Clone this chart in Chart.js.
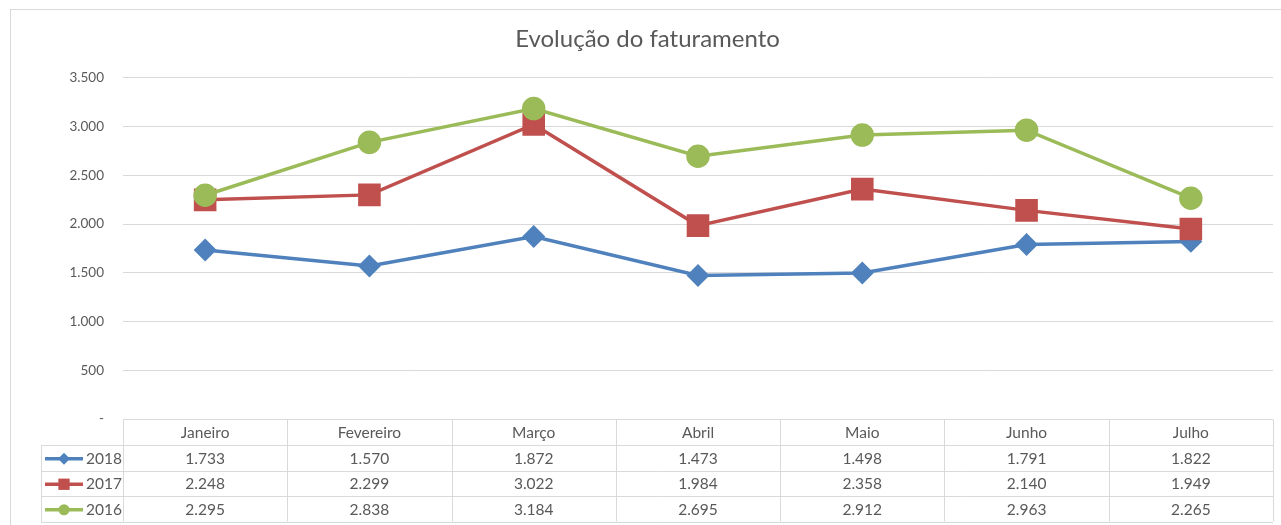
<!DOCTYPE html>
<html>
<head>
<meta charset="utf-8">
<script src="https://cdn.jsdelivr.net/npm/chart.js@4.4.1/dist/chart.umd.min.js"></script>
<style>
  html, body { margin: 0; padding: 0; background: #fff; overflow: hidden; }
  #wrap { width: 1281px; height: 525px; }
  canvas { display: block; }
</style>
</head>
<body>
<div id="wrap"><canvas id="chart" width="1281" height="525"></canvas></div>
<script>
// data
const months = ['Janeiro', 'Fevereiro', 'Março', 'Abril', 'Maio', 'Junho', 'Julho'];
const years = ['2018', '2017', '2016'];
const values2018 = [1733, 1570, 1872, 1473, 1498, 1791, 1822];
const values2017 = [2248, 2299, 3022, 1984, 2358, 2140, 1949];
const values2016 = [2295, 2838, 3184, 2695, 2912, 2963, 2265];
const yTicks = [0, 500, 1000, 1500, 2000, 2500, 3000, 3500];

const FONT = 'Lato, "Open Sans", sans-serif';
const TEXT = '#595959';
const GRID = '#d9d9d9';

// 1733 -> "1.733", 0 -> "-"
function fmt(v) {
    if (v === 0) return '-';
    return String(Math.round(v)).replace(/\B(?=(\d{3})+(?!\d))/g, '.');
}

// frame + data table under the plot
const tablePlugin = {
    id: 'dataTable',
    afterLayout: function (chart) {
        // the frame starts at x=10, so nudge the title right a bit
        if (chart.titleBlock) {
            chart.titleBlock.left += 11;
            chart.titleBlock.right += 11;
        }
    },
    beforeDraw: function (chart) {
        const ctx = chart.ctx;
        ctx.save();
        ctx.fillStyle = '#fff';
        ctx.fillRect(0, 0, chart.width, chart.height);
        ctx.strokeStyle = GRID;
        ctx.lineWidth = 1;
        ctx.strokeRect(10.5, 9.5, chart.width + 20, chart.height + 20);
        ctx.restore();
    },
    afterDraw: function (chart) {
        const ctx = chart.ctx;
        const xs = chart.scales.x;
        const area = chart.chartArea;
        const colW = (area.right - area.left) / months.length;
        const top = Math.round(area.bottom) + 0.5;
        const rowH = 25.5;
        const legendLeft = 41.5;

        ctx.save();
        ctx.strokeStyle = GRID;
        ctx.lineWidth = 1;
        ctx.beginPath();
        ctx.moveTo(area.left, top);
        ctx.lineTo(area.right, top);
        for (let i = 0; i <= months.length; i++) {
            const x = Math.round(area.left + i * colW) + 0.5;
            ctx.moveTo(x, top);
            ctx.lineTo(x, top + rowH * 4);
        }
        for (let r = 1; r <= 4; r++) {
            const y = Math.round(top + r * rowH) + 0.5;
            ctx.moveTo(legendLeft, y);
            ctx.lineTo(area.right, y);
        }
        ctx.moveTo(legendLeft, Math.round(top + rowH) + 0.5);
        ctx.lineTo(legendLeft, Math.round(top + rowH * 4) + 0.5);
        ctx.stroke();

        ctx.fillStyle = TEXT;
        ctx.font = '15.5px ' + FONT;
        ctx.textAlign = 'center';
        ctx.textBaseline = 'middle';
        months.forEach(function (m, i) {
            ctx.fillText(m, xs.getPixelForValue(i), top + rowH / 2 + 1);
        });

        // rows follow the table order 2018, 2017, 2016
        years.forEach(function (yr, r) {
            const ds = chart.data.datasets.find(d => d.label === yr);
            const cy = top + rowH * (r + 1) + rowH / 2 + 1;
            // legend key
            ctx.strokeStyle = ds.borderColor;
            ctx.lineWidth = 3.5;
            ctx.beginPath();
            ctx.moveTo(45, cy);
            ctx.lineTo(83, cy);
            ctx.stroke();
            ctx.fillStyle = ds.backgroundColor;
            Chart.helpers.drawPoint(ctx, {
                pointStyle: ds.pointStyle,
                radius: ds.keyRadius,
                rotation: 0,
                borderWidth: 0
            }, 64, cy);
            ctx.fillStyle = TEXT;
            ctx.textAlign = 'left';
            ctx.fillText(yr, 86, cy);
            ctx.textAlign = 'center';
            ds.data.forEach(function (v, i) {
                ctx.fillText(fmt(v), xs.getPixelForValue(i), cy);
            });
        });
        ctx.restore();
    }
};

new Chart(document.getElementById('chart').getContext('2d'), {
    type: 'line',
    data: {
        labels: months,
        datasets: [
            {
                label: '2018',
                data: values2018,
                borderColor: '#4f81bd',
                backgroundColor: '#4f81bd',
                pointStyle: 'rectRot',
                pointRadius: 9,
                keyRadius: 6,
                borderWidth: 3.5,
                order: 2
            },
            {
                label: '2017',
                data: values2017,
                borderColor: '#c0504d',
                backgroundColor: '#c0504d',
                pointStyle: 'rect',
                pointRadius: 13.5,
                keyRadius: 8,
                borderWidth: 3.5,
                order: 1
            },
            {
                label: '2016',
                data: values2016,
                borderColor: '#9bbb59',
                backgroundColor: '#9bbb59',
                pointStyle: 'circle',
                pointRadius: 10,
                keyRadius: 5.5,
                borderWidth: 3.5,
                order: 0
            }
        ]
    },
    options: {
        responsive: false,
        animation: false,
        events: [],
        layout: {
            autoPadding: false,
            padding: { left: 0, right: 8, top: 0, bottom: 106 }
        },
        elements: {
            line: { tension: 0 },
            point: { borderWidth: 0, hoverRadius: 0 }
        },
        plugins: {
            legend: { display: false },
            tooltip: { enabled: false },
            title: {
                display: true,
                text: 'Evolução do faturamento',
                color: TEXT,
                font: { family: FONT, size: 24, weight: 'normal' },
                padding: { top: 25, bottom: 24 }
            }
        },
        scales: {
            x: {
                display: false,
                offset: true
            },
            y: {
                min: 0,
                max: 3500,
                afterBuildTicks: function (scale) {
                    scale.ticks = yTicks.map(v => ({ value: v }));
                },
                afterFit: function (scale) {
                    scale.width = 123;
                },
                border: { display: false },
                grid: {
                    color: GRID,
                    lineWidth: 1,
                    drawTicks: false
                },
                ticks: {
                    color: TEXT,
                    padding: 19,
                    font: { family: FONT, size: 13.5 },
                    callback: function (v) { return fmt(v); }
                }
            }
        }
    },
    plugins: [tablePlugin]
});
</script>
</body>
</html>
